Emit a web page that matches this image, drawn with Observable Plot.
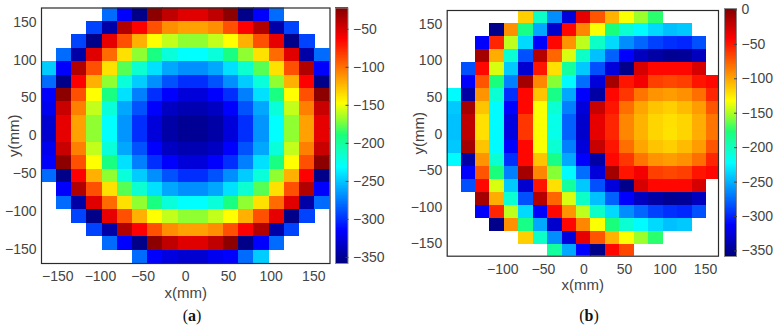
<!DOCTYPE html>
<html>
<head>
<meta charset="utf-8">
<script src="https://cdn.jsdelivr.net/npm/d3@7"></script>
<script src="https://cdn.jsdelivr.net/npm/@observablehq/plot@0.6"></script>
<style>
html,body{margin:0;padding:0;background:#fff}
#root{position:relative;width:774px;height:329px;overflow:hidden;font-family:"Liberation Sans",Arial,sans-serif}
#root>svg,#root>div{position:absolute;top:0}
.cap{font-family:"Liberation Serif",serif;font-size:16px;color:#111;top:307px!important;transform:translateX(-50%)}
</style>
</head>
<body>
<div id="root"></div>
<script>
const N = null;
const cellSize = 17.8;
const xCenters = [-160.2,-142.4,-124.6,-106.8,-89,-71.2,-53.4,-35.6,-17.8,0,17.8,35.6,53.4,71.2,89,106.8,124.6,142.4,160.2];
const yCenters = [160.2,142.4,124.6,106.8,89,71.2,53.4,35.6,17.8,0,-17.8,-35.6,-53.4,-71.2,-89,-106.8,-124.6,-142.4,-160.2];

const gridA = [
[N,N,N,N,-281,-316,-355,-26,-43,-54,-54,-43,-26,-355,-316,-281,N,N,N],
[N,N,N,-294,-345,-38,-64,-90,-111,-117,-117,-111,-90,-64,-38,-345,-294,N,N],
[N,N,-294,-355,-56,-90,-122,-148,-160,-170,-170,-160,-148,-122,-90,-56,-355,-294,N],
[N,-281,-345,-54,-99,-138,-170,-193,-220,-232,-232,-220,-193,-170,-138,-99,-54,-345,-281],
[-249,-316,-38,-90,-138,-180,-217,-242,-261,-269,-269,-261,-242,-217,-180,-138,-90,-38,-316],
[-281,-355,-64,-122,-170,-220,-249,-269,-289,-301,-301,-289,-269,-249,-220,-170,-122,-64,-355],
[-316,-26,-90,-148,-193,-242,-274,-301,-316,-328,-328,-316,-301,-274,-242,-193,-148,-90,-26],
[-321,-46,-106,-160,-220,-261,-289,-316,-336,-341,-341,-336,-316,-289,-261,-220,-160,-106,-46],
[-331,-56,-117,-170,-232,-267,-301,-328,-345,-351,-351,-345,-328,-301,-267,-232,-170,-117,-56],
[-331,-56,-117,-170,-232,-267,-301,-328,-345,-351,-351,-345,-328,-301,-267,-232,-170,-117,-56],
[-321,-46,-106,-160,-220,-261,-289,-316,-336,-341,-341,-336,-316,-289,-261,-220,-160,-106,-46],
[-316,-26,-90,-148,-193,-242,-274,-301,-316,-328,-328,-316,-301,-274,-242,-193,-148,-90,-26],
[-281,-355,-64,-122,-170,-220,-249,-269,-289,-301,-301,-289,-269,-249,-220,-170,-122,-64,-355],
[N,-316,-38,-90,-138,-180,-217,-242,-261,-269,-269,-261,-242,-217,-180,-138,-90,-38,-316],
[N,-281,-345,-54,-99,-138,-170,-193,-220,-232,-232,-220,-193,-170,-138,-99,-54,-345,-281],
[N,N,-294,-355,-56,-90,-122,-148,-160,-170,-170,-160,-148,-122,-90,-56,-355,-294,N],
[N,N,N,-294,-345,-38,-64,-90,-111,-117,-117,-111,-90,-64,-38,-345,-294,N,N],
[N,N,N,N,-281,-316,-355,-26,-43,-54,-54,-43,-26,-355,-316,-281,N,N,N],
[N,N,N,N,N,N,-281,-316,-326,-331,-331,-321,-316,-281,-249,N,N,N,N]
];
const gridB = [
[N,N,N,N,N,-116,-204,-263,-326,-34,-73,-106,-134,-154,-175,N,N,N,N],
[N,N,N,-354,-94,-183,-254,-331,-45,-90,-134,-179,-208,-224,-236,-245,-242,N,N],
[N,N,-313,-56,-147,-236,-313,-45,-95,-147,-204,-236,-263,-277,-290,-297,-300,-285,N],
[N,N,-11,-104,-208,-285,-17,-79,-141,-204,-245,-279,-313,-336,-345,-351,-349,-336,N],
[N,-285,-45,-141,-242,-329,-50,-122,-190,-242,-285,-326,-354,-29,-45,-45,-45,-29,N],
[N,-313,-73,-179,-268,-11,-90,-158,-224,-274,-326,-11,-50,-39,-65,-68,-65,-50,-45],
[-224,-345,-95,-208,-297,-45,-112,-183,-254,-313,-345,-45,-62,-84,-95,-98,-94,-82,-56],
[-242,-11,-112,-224,-313,-45,-134,-208,-268,-326,-23,-50,-82,-101,-112,-116,-109,-98,-73],
[-245,-20,-122,-224,-324,-62,-134,-215,-279,-331,-34,-56,-90,-106,-118,-122,-118,-104,-84],
[-245,-20,-122,-224,-324,-62,-134,-215,-279,-331,-34,-56,-90,-106,-118,-123,-118,-104,-84],
[-242,-11,-112,-224,-313,-45,-134,-208,-268,-326,-23,-50,-82,-101,-112,-116,-109,-98,-73],
[-224,-345,-95,-208,-297,-45,-112,-183,-254,-313,-345,-45,-62,-84,-95,-98,-94,-82,-56],
[N,-313,-73,-179,-268,-11,-90,-158,-224,-274,-326,-11,-50,-39,-65,-68,-65,-50,-45],
[N,-285,-45,-141,-242,-329,-50,-122,-190,-242,-285,-326,-354,-29,-45,-45,-45,-29,N],
[N,N,-11,-104,-208,-285,-17,-79,-141,-204,-245,-279,-313,-336,-345,-351,-349,-336,N],
[N,N,-313,-56,-147,-236,-313,-45,-95,-147,-204,-236,-263,-277,-290,-297,-300,-285,N],
[N,N,N,-354,-94,-183,-254,-331,-45,-90,-134,-179,-208,-224,-236,-245,-242,N,N],
[N,N,N,N,N,-116,-204,-263,-326,-34,-73,-106,-134,-154,-175,N,N,N,N],
[N,N,N,N,N,N,N,-190,-254,-313,-354,-45,-68,N,N,N,N,N,N]
];

const xTicksA = [-150,-100,-50,0,50,100,150];
const xTicksB = [-100,-50,0,50,100,150];
const yTicks = [-150,-100,-50,0,50,100,150];
const barTicksA = [-50,-100,-150,-200,-250,-300,-350];
const barTicksB = [0,-50,-100,-150,-200,-250,-300,-350];
const colorDomainA = [-358,-22];
const colorDomainB = [-358,2];

const jetStops = [0,0.125,0.25,0.375,0.44,0.5,0.56,0.625,0.75,0.875,1];
const jetColors = ["#00007f","#0000ff","#0080ff","#00ffff","#10ffbb","#1aff78","#90ff30","#ffff00","#ff8000","#ff0000","#800000"];

const font = '"Liberation Sans",Arial,sans-serif';
const tickColor = "#444444";
const half = cellSize/2 + 0.15;

function colorScale(dom){
  return {type:"linear", domain: jetStops.map(t=>dom[0]+(dom[1]-dom[0])*t), range: jetColors, clamp:true};
}
function cells(grid){
  const out=[];
  grid.forEach((row,j)=>row.forEach((v,i)=>{ if(v!==null) out.push({x:xCenters[i],y:yCenters[j],v}); }));
  return out;
}
function heat(grid,o){
  return Plot.plot({
    width:o.width, height:329,
    marginLeft:o.left, marginRight:o.width-o.right, marginTop:o.top, marginBottom:329-o.bottom,
    style:{background:"transparent",fontFamily:font,color:tickColor},
    x:{domain:o.xDomain}, y:{domain:o.yDomain},
    color:colorScale(o.colorDomain),
    marks:[
      Plot.rect(cells(grid),{x1:d=>d.x-half,x2:d=>d.x+half,y1:d=>d.y-half,y2:d=>d.y+half,fill:"v",clip:true,shapeRendering:"crispEdges"}),
      Plot.frame({stroke:"#2a2a2a",strokeWidth:1.2}),
      Plot.axisX({ticks:o.xTicks,tickSize:0,tickPadding:8,fontSize:14,label:null}),
      Plot.axisY({ticks:yTicks,tickSize:0,tickPadding:5,fontSize:14,label:null}),
      Plot.axisX({ticks:[],tickSize:0,fontSize:15,label:"x(mm)",labelAnchor:"center",labelArrow:"none",labelOffset:o.xLabelOffset}),
      Plot.axisY({ticks:[],tickSize:0,fontSize:15,label:"y(mm)",labelAnchor:"center",labelArrow:"none",labelOffset:o.yLabelOffset})
    ]
  });
}
function colorbar(o){
  const [lo,hi]=o.colorDomain;
  return Plot.plot({
    width:o.width, height:329,
    marginLeft:o.left, marginRight:o.width-o.right, marginTop:o.top, marginBottom:329-o.bottom,
    style:{background:"transparent",fontFamily:font,color:tickColor},
    x:{domain:[0,1],axis:null}, y:{domain:o.colorDomain},
    color:colorScale(o.colorDomain),
    marks:[
      Plot.rect(d3.range(lo,hi,1),{x1:0,x2:1,y1:d=>d,y2:d=>d+1.5,fill:d=>d,shapeRendering:"crispEdges"}),
      Plot.frame({stroke:"#8a8a8a",strokeWidth:1}),
      Plot.axisY({anchor:"right",ticks:o.ticks,tickSize:-3,text:null,stroke:"#444",label:null}),
      Plot.axisY({anchor:"right",ticks:o.ticks,tickSize:0,tickPadding:5,fontSize:14,label:null})
    ]
  });
}

const root=document.getElementById("root");
function place(el,left){ el.style.left=left+"px"; root.appendChild(el); }

place(heat(gridA,{width:335,left:41,right:329.5,top:7.5,bottom:263,xDomain:[-169,169],yDomain:[-169,169],colorDomain:colorDomainA,xTicks:xTicksA,xLabelOffset:34,yLabelOffset:33}),0);
place(colorbar({width:60,left:5,right:17.5,top:7.5,bottom:263,colorDomain:colorDomainA,ticks:barTicksA}),330);
place(heat(gridB,{width:330,left:46.7,right:318,top:10,bottom:255.7,xDomain:[-168.6,166],yDomain:[-167,169],colorDomain:colorDomainB,xTicks:xTicksB,xLabelOffset:34,yLabelOffset:34}),400);
place(colorbar({width:54,left:4,right:16,top:8,bottom:256,colorDomain:colorDomainB,ticks:barTicksB}),720);

function caption(letter,left){
  const d=document.createElement("div"); d.className="cap";
  d.append("("); const b=document.createElement("b"); b.textContent=letter; d.append(b); d.append(")");
  d.style.left=left+"px"; root.appendChild(d);
}
caption("a",192); caption("b",589);
</script>
</body>
</html>
